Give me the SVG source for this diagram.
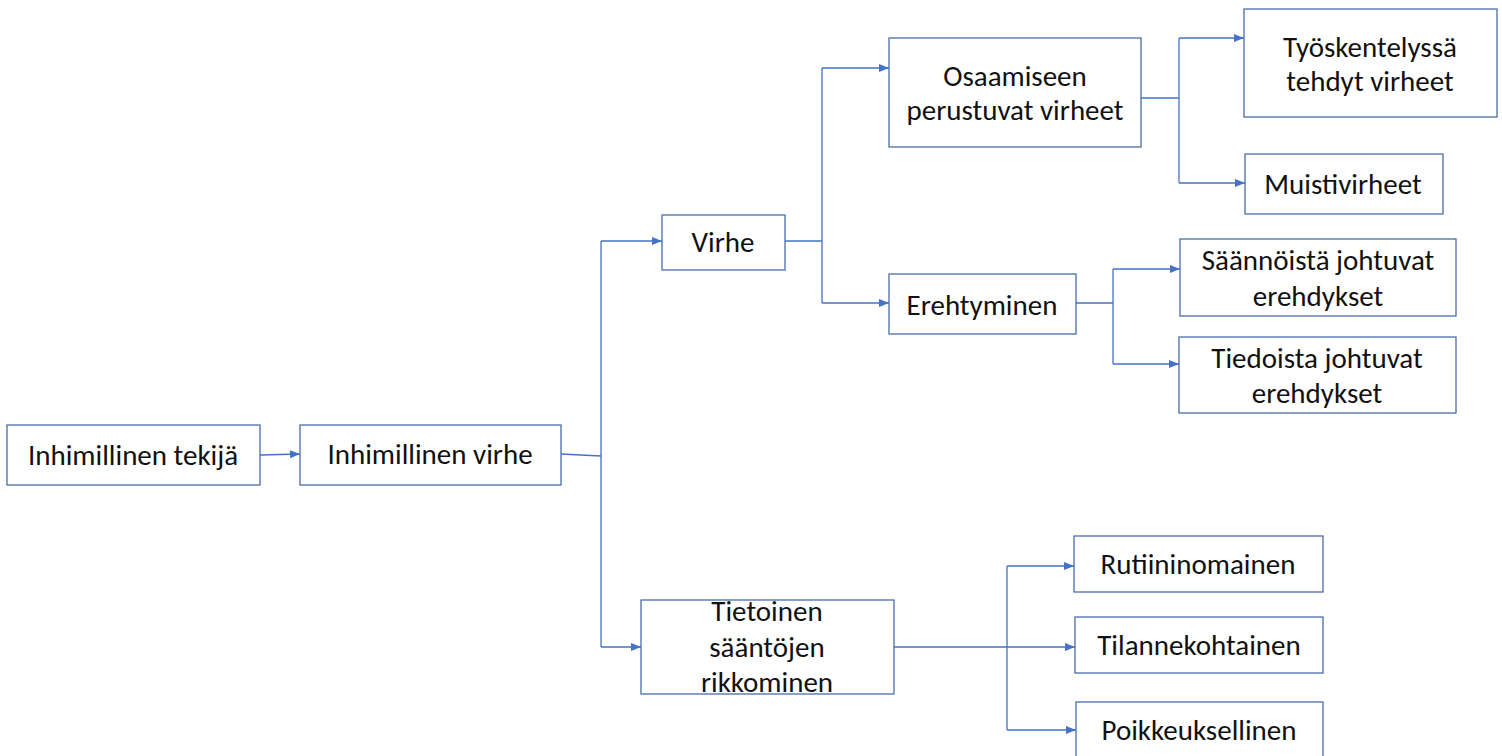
<svg xmlns="http://www.w3.org/2000/svg" width="1502" height="756" viewBox="0 0 1502 756">
<defs>
<marker id="ah" viewBox="0 0 10 8" refX="10" refY="4" markerWidth="10" markerHeight="8" markerUnits="userSpaceOnUse" orient="auto">
<path d="M0,0 L10,4 L0,8 Z" fill="#4472C4"/>
</marker>
<style>
.box{fill:#ffffff;stroke:#4A6EA8;stroke-width:1.3}
.t{font-family:Carlito,Lato,"Liberation Sans",sans-serif;font-size:29px;fill:#111111;text-anchor:middle;dominant-baseline:central}
.c{fill:none;stroke:#4472C4;stroke-width:1.3}
.a{marker-end:url(#ah)}
</style>
</defs>
<rect width="1502" height="756" fill="#ffffff"/>
<g id="connectors">
<path class="c a" d="M260,455 L300,454"/>
<path class="c" d="M561,454 L601,456"/>
<path class="c" d="M601,241 L601,647"/>
<path class="c a" d="M601,241 L662,241"/>
<path class="c a" d="M601,647 L641,647"/>
<path class="c" d="M785,241 L822,241"/>
<path class="c" d="M822,68 L822,303"/>
<path class="c a" d="M822,68 L889,68"/>
<path class="c a" d="M822,303 L889,303"/>
<path class="c" d="M1141,98 L1179,98"/>
<path class="c" d="M1179,38 L1179,183"/>
<path class="c a" d="M1179,38 L1244,38"/>
<path class="c a" d="M1179,183 L1245,183"/>
<path class="c" d="M1076,303 L1113,303"/>
<path class="c" d="M1113,269 L1113,364"/>
<path class="c a" d="M1113,269 L1180,269"/>
<path class="c a" d="M1113,364 L1179,364"/>
<path class="c a" d="M894,647 L1075,647"/>
<path class="c" d="M1007,566 L1007,730"/>
<path class="c a" d="M1007,566 L1074,566"/>
<path class="c a" d="M1007,730 L1076,730"/>
</g>
<g id="n1"><rect class="box" x="7" y="425" width="253" height="60"/><text class="t" x="133" y="455">Inhimillinen tekijä</text></g>
<g id="n2"><rect class="box" x="300" y="425" width="261" height="60"/><text class="t" x="430" y="454">Inhimillinen virhe</text></g>
<g id="n3"><rect class="box" x="662" y="215" width="123" height="55"/><text class="t" x="723" y="242">Virhe</text></g>
<g id="n4"><rect class="box" x="889" y="38" width="252" height="109"/><text class="t" x="1015" y="76">Osaamiseen</text><text class="t" x="1015" y="110">perustuvat virheet</text></g>
<g id="n5"><rect class="box" x="1244" y="9" width="253" height="108"/><text class="t" x="1370" y="47">Työskentelyssä</text><text class="t" x="1370" y="81">tehdyt virheet</text></g>
<g id="n6"><rect class="box" x="1245" y="154" width="198" height="60"/><text class="t" x="1343" y="184">Muistivirheet</text></g>
<g id="n7"><rect class="box" x="889" y="274" width="187" height="60"/><text class="t" x="982" y="305">Erehtyminen</text></g>
<g id="n8"><rect class="box" x="1180" y="239" width="276" height="77"/><text class="t" x="1318" y="260">Säännöistä johtuvat</text><text class="t" x="1318" y="296">erehdykset</text></g>
<g id="n9"><rect class="box" x="1179" y="337" width="277" height="76"/><text class="t" x="1317" y="358">Tiedoista johtuvat</text><text class="t" x="1317" y="393">erehdykset</text></g>
<g id="n10"><rect class="box" x="641" y="600" width="253" height="94"/><text class="t" x="767" y="611">Tietoinen</text><text class="t" x="767" y="647">sääntöjen</text><text class="t" x="767" y="682">rikkominen</text></g>
<g id="n11"><rect class="box" x="1074" y="536" width="249" height="56"/><text class="t" x="1198" y="564">Rutiininomainen</text></g>
<g id="n12"><rect class="box" x="1075" y="617" width="248" height="56"/><text class="t" x="1199" y="645">Tilannekohtainen</text></g>
<g id="n13"><rect class="box" x="1076" y="702" width="247" height="60"/><text class="t" x="1199" y="730">Poikkeuksellinen</text></g>
</svg>
